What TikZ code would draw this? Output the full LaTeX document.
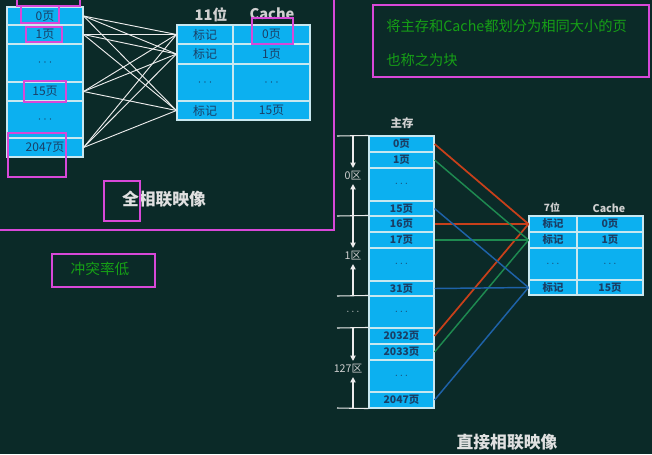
\documentclass[tikz,border=0pt]{standalone}
\usepackage{fontspec}
\setmainfont{Noto Sans CJK SC}
\usetikzlibrary{arrows.meta}
\definecolor{bg}{HTML}{0B2A28}
\definecolor{cellfill}{HTML}{0CB0F0}
\definecolor{cellline}{HTML}{C8E8F0}
\definecolor{celltext}{HTML}{1A3F66}
\definecolor{mag}{HTML}{D848D8}
\definecolor{note}{HTML}{16A016}
\definecolor{titlecol}{HTML}{E0E0E0}
\definecolor{hdrcol}{HTML}{D0D0D0}
\definecolor{mapred}{HTML}{C8401A}
\definecolor{mapgreen}{HTML}{1E8A50}
\definecolor{mapblue}{HTML}{1E62A8}
\newcommand\fs[1]{\fontsize{#1}{#1}\selectfont}
\newcommand\cellbox[7]{%
  \node[cellsty,#6,minimum width={(#4-#2)*0.75pt},minimum height={(#5-#3)*0.75pt}] (#1) at ({(#2+#4)/2},{(#3+#5)/2}) {#7};}
\tikzset{
  cellsty/.style={draw=cellline,line width=0.8pt,fill=cellfill,inner sep=0pt,text=celltext},
  fa/.style={font=\fs{9}},
  dm/.style={font=\fs{7.8}\bfseries},
  hdr/.style={text=hdrcol,inner sep=0pt},
  titlesty/.style={text=titlecol,inner sep=0pt,font=\fs{12.6}\bfseries},
  notesty/.style={text=note,inner sep=0pt,font=\fs{10.7}},
  magbox/.style={draw=mag,line width=1.5pt},
  assoc/.style={draw=white!85!gray,line width=0.7pt},
  sepline/.style={draw=white!85!gray,line width=0.8pt},
  dimarrow/.style={draw=white!85!gray,line width=0.8pt,-{Triangle[width=4pt,length=4pt]},shorten >=2.5pt},
  zone/.style={text=hdrcol,inner sep=0pt,font=\fs{8}},
  mapr/.style={draw=mapred,line width=1.3pt},
  mapg/.style={draw=mapgreen,line width=1.1pt},
  mapb/.style={draw=mapblue,line width=1.1pt},
}
\begin{document}
\begin{tikzpicture}[x=0.75pt,y=-0.75pt]
\fill[bg] (0,0) rectangle (652,454);
\useasboundingbox (0,0) rectangle (652,454);

% ---------- full associative ----------
\cellbox{a0}{7}{7}{83}{25}{fa}{0页}
\cellbox{a1}{7}{25}{83}{44}{fa}{1页}
\cellbox{ad1}{7}{44}{83}{82}{fa}{$\cdots$}
\cellbox{a15}{7}{82}{83}{101}{fa}{15页}
\cellbox{ad2}{7}{101}{83}{138}{fa}{$\cdots$}
\cellbox{a2047}{7}{138}{83}{157}{fa}{2047页}

\cellbox{ft0}{177}{25}{233}{44}{fa}{标记}
\cellbox{fp0}{233}{25}{310}{44}{fa}{0页}
\cellbox{ft1}{177}{44}{233}{64}{fa}{标记}
\cellbox{fp1}{233}{44}{310}{64}{fa}{1页}
\cellbox{ftd}{177}{64}{233}{101}{fa}{$\cdots$}
\cellbox{fpd}{233}{64}{310}{101}{fa}{$\cdots$}
\cellbox{ft15}{177}{101}{233}{120}{fa}{标记}
\cellbox{fp15}{233}{101}{310}{120}{fa}{15页}

\node[hdr,font=\fs{11}\bfseries] (fbits) at (211,15) {11位};
\node[hdr,font=\fs{11}\bfseries] (fcache) at (272,14) {Cache};
\node[titlesty] (ftitle) at (164,199) {全相联映像};

\foreach \s in {a0,a1,a15,a2047}
  \foreach \t in {ft0,ft1,ft15}
    \draw[assoc] (\s.east) -- (\t.west);

% ---------- direct mapping ----------
\cellbox{d0}{369}{136}{434}{152}{dm}{0页}
\cellbox{d1}{369}{152}{434}{168}{dm}{1页}
\cellbox{dd1}{369}{168}{434}{201}{dm}{$\cdots$}
\cellbox{d15}{369}{201}{434}{216}{dm}{15页}
\cellbox{d16}{369}{216}{434}{232}{dm}{16页}
\cellbox{d17}{369}{232}{434}{248}{dm}{17页}
\cellbox{dd2}{369}{248}{434}{281}{dm}{$\cdots$}
\cellbox{d31}{369}{281}{434}{296}{dm}{31页}
\cellbox{dd3}{369}{296}{434}{328}{dm}{$\cdots$}
\cellbox{d2032}{369}{328}{434}{344}{dm}{2032页}
\cellbox{d2033}{369}{344}{434}{360}{dm}{2033页}
\cellbox{dd4}{369}{360}{434}{392}{dm}{$\cdots$}
\cellbox{d2047}{369}{392}{434}{408}{dm}{2047页}

\cellbox{dt0}{529}{216}{577}{232}{dm}{标记}
\cellbox{dp0}{577}{216}{643}{232}{dm}{0页}
\cellbox{dt1}{529}{232}{577}{248}{dm}{标记}
\cellbox{dp1}{577}{232}{643}{248}{dm}{1页}
\cellbox{dtd}{529}{248}{577}{280}{dm}{$\cdots$}
\cellbox{dpd}{577}{248}{643}{280}{dm}{$\cdots$}
\cellbox{dt15}{529}{280}{577}{295}{dm}{标记}
\cellbox{dp15}{577}{280}{643}{295}{dm}{15页}

\node[hdr,font=\fs{8.6}\bfseries] (mainhdr) at (402,123) {主存};
\node[hdr,font=\fs{7.5}\bfseries] (dbits) at (552,208) {7位};
\node[hdr,font=\fs{8}\bfseries] (dcache) at (609,208) {Cache};
\node[titlesty] (dtitle) at (507,442) {直接相联映像};

% zone separators
\coordinate (s0) at (337,136);
\coordinate (s1) at (337,216);
\coordinate (s2) at (337,296);
\coordinate (s3) at (337,328);
\coordinate (s4) at (337,408);
\draw[sepline] (s0) -- (d0.north west);
\draw[sepline] (s1) -- (d16.north west);
\draw[sepline] (s2) -- (dd3.north west);
\draw[sepline] (s3) -- (d2032.north west);
\draw[sepline] (s4) -- (d2047.south west);

\coordinate (v0) at (353,136);
\coordinate (v1) at (353,216);
\coordinate (v2) at (353,296);
\coordinate (v3) at (353,328);
\coordinate (v4) at (353,408);
\node[zone] (z0) at (353,176) {0区};
\node[zone] (z1) at (353,256) {1区};
\node[zone] (zd) at (353,312) {$\cdots$};
\node[zone] (z127) at (348,369) {127区};
\draw[dimarrow] (v0) -- (z0.north);
\draw[dimarrow] (v1) -- (z0.south);
\draw[dimarrow] (v1) -- (z1.north);
\draw[dimarrow] (v2) -- (z1.south);
\draw[dimarrow] (v3) -- (z127.north -| v3);
\draw[dimarrow] (v4) -- (z127.south -| v4);

% mapping lines
\draw[mapr] (d0.east) -- (dt0.west);
\draw[mapr] (d16.east) -- (dt0.west);
\draw[mapr] (d2032.east) -- (dt0.west);
\draw[mapg] (d1.east) -- (dt1.west);
\draw[mapg] (d17.east) -- (dt1.west);
\draw[mapg] (d2033.east) -- (dt1.west);
\draw[mapb] (d15.east) -- (dt15.west);
\draw[mapb] (d31.east) -- (dt15.west);
\draw[mapb] (d2047.east) -- (dt15.west);

% ---------- notes ----------
\node[notesty,anchor=west] (note1) at (386,26) {将主存和Cache都划分为相同大小的页};
\node[notesty,anchor=west] (note2) at (386,60) {也称之为块};
\node[notesty,font=\fs{11}] (note3) at (100,269) {冲突率低};

% ---------- magenta highlight boxes ----------
\draw[magbox] (0,230) -- (334,230) -- (334,0);
\draw[magbox] (17,0) -- (17,6) -- (80,6) -- (80,0);
\draw[magbox] (21,6) rectangle (59,23);
\draw[magbox] (26,27) rectangle (62,42);
\draw[magbox] (24,81) rectangle (66,102);
\draw[magbox] (8,133) rectangle (66,177);
\draw[magbox] (104,181) rectangle (140,221);
\draw[magbox] (252,18) rectangle (293,44);
\draw[magbox] (373,5) rectangle (649,77);
\draw[magbox] (52,254) rectangle (155,287);
\end{tikzpicture}
\end{document}
